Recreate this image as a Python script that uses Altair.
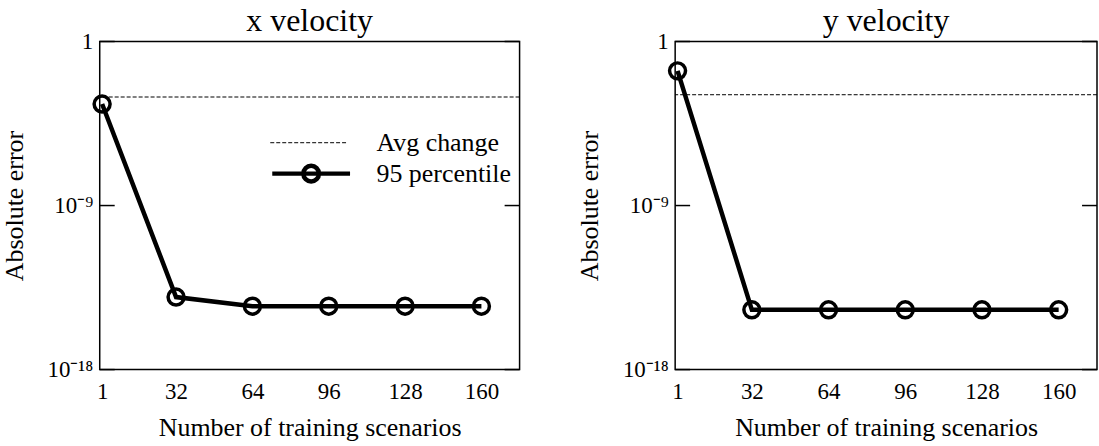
import altair as alt
import pandas as pd

n_values = [1, 32, 64, 96, 128, 160]
x_p95 = [3.7e-4, 9.5e-15, 3.0e-15, 3.0e-15, 3.0e-15, 3.0e-15]
y_p95 = [2.45e-2, 1.9e-15, 1.9e-15, 1.9e-15, 1.9e-15, 1.9e-15]
x_avg = [9.0e-4]
y_avg = [1.2e-3]
y_tick_values = [1e-18, 1e-9, 1]
x_tick_values = [1, 32, 64, 96, 128, 160]
series_names = ["Avg change", "95 percentile"]
panel_titles = ["x velocity", "y velocity"]

FONT = "Liberation Serif"
H = 329

LABEL_EXPR = "datum.value >= 0.5 ? '1' : (datum.value > 1e-12 ? '10\u207b\u2079' : '10\u207b\u00b9\u2078')"
LINE_CIRCLE = "M-1,0H1M-0.2,0A0.2,0.2 0 1,0 0.2,0A0.2,0.2 0 1,0 -0.2,0"


def panel(p95, avg, title, with_legend, W):
    line_df = pd.DataFrame({"n": n_values, "err": p95, "label": series_names[1]})
    avg_df = pd.DataFrame({"err": avg, "series": series_names[0]})
    tick_df = pd.DataFrame({"err": y_tick_values})

    yscale = alt.Scale(type="log", domain=[1e-18, 1], nice=False)
    xscale = alt.Scale(domain=[0, 176], nice=False, zero=False)

    yaxis = alt.Axis(
        values=y_tick_values, labelExpr=LABEL_EXPR, ticks=False, tickSize=0,
        domain=False, grid=False, labelFont=FONT, labelFontSize=23,
        labelPadding=7, labelFlush=False, labelColor="black",
        title="Absolute error", titleFont=FONT, titleFontSize=26,
        titleFontWeight="normal", titlePadding=20, titleColor="black",
    )
    xaxis = alt.Axis(
        values=x_tick_values, ticks=False, tickSize=0, domain=False, grid=False,
        labelFont=FONT, labelFontSize=23, labelPadding=11, labelFlush=False,
        labelColor="black", title="Number of training scenarios",
        titleFont=FONT, titleFontSize=26, titleFontWeight="normal",
        titlePadding=11, titleColor="black",
    )

    def Y():
        return alt.Y("err:Q", scale=yscale, axis=yaxis)

    def X():
        return alt.X("n:Q", scale=xscale, axis=xaxis)

    if with_legend:
        legend_avg = alt.Legend(
            title=None, orient="none", legendX=170.5, legendY=87,
            labelFont=FONT, labelFontSize=26, labelColor="black",
            symbolType="stroke", symbolSize=6084, symbolStrokeWidth=1,
            symbolStrokeColor="black", clipHeight=29, labelOffset=28, padding=0,
        )
        legend_p95 = alt.Legend(
            title=None, orient="none", legendX=170.5, legendY=118,
            labelFont=FONT, labelFontSize=26, labelColor="black",
            symbolType=LINE_CIRCLE, symbolSize=6084, symbolStrokeWidth=4.5,
            symbolFillColor="transparent", symbolStrokeColor="black",
            clipHeight=29, labelOffset=24, padding=0,
        )
        avg_layer = alt.Chart(avg_df).mark_rule(color="black", strokeWidth=1).encode(
            y=Y(),
            strokeDash=alt.StrokeDash(
                "series:N", scale=alt.Scale(domain=[series_names[0]], range=[[4, 2]]),
                legend=legend_avg,
            ),
        )
        line_layer = alt.Chart(line_df).mark_line(strokeWidth=4.5).encode(
            x=X(), y=Y(),
            color=alt.Color(
                "label:N", scale=alt.Scale(domain=[series_names[1]], range=["black"]),
                legend=legend_p95,
            ),
        )
    else:
        avg_layer = alt.Chart(avg_df).mark_rule(color="black", strokeWidth=1, strokeDash=[4, 2]).encode(
            y=Y(),
        )
        line_layer = alt.Chart(line_df).mark_line(color="black", strokeWidth=4.5).encode(
            x=X(), y=Y(),
        )

    point_layer = alt.Chart(line_df).mark_point(
        color="black", filled=False, size=256, strokeWidth=3.5, opacity=1
    ).encode(x=X(), y=Y())
    tick_left = alt.Chart(tick_df).mark_rule(color="black", strokeWidth=1.5).encode(
        y=Y(), x=alt.value(0), x2=alt.value(15)
    )
    tick_right = alt.Chart(tick_df).mark_rule(color="black", strokeWidth=1.5).encode(
        y=Y(), x=alt.value(W - 15), x2=alt.value(W)
    )

    return alt.layer(avg_layer, line_layer, point_layer, tick_left, tick_right).properties(
        width=W, height=H,
        title=alt.TitleParams(text=title, font=FONT, fontSize=32, fontWeight="normal",
                              offset=-7, anchor="middle", color="black"),
    )


left = panel(x_p95, x_avg, panel_titles[0], True, 421)
right = panel(y_p95, y_avg, panel_titles[1], False, 423)

chart = alt.hconcat(left, right, spacing=54).properties(
    padding={"left": 0, "top": 3, "right": 0, "bottom": 0},
    background="white",
).configure_view(stroke="black", strokeWidth=1.5)

chart.save("out.html", embed_options={"renderer": "svg", "actions": False})
